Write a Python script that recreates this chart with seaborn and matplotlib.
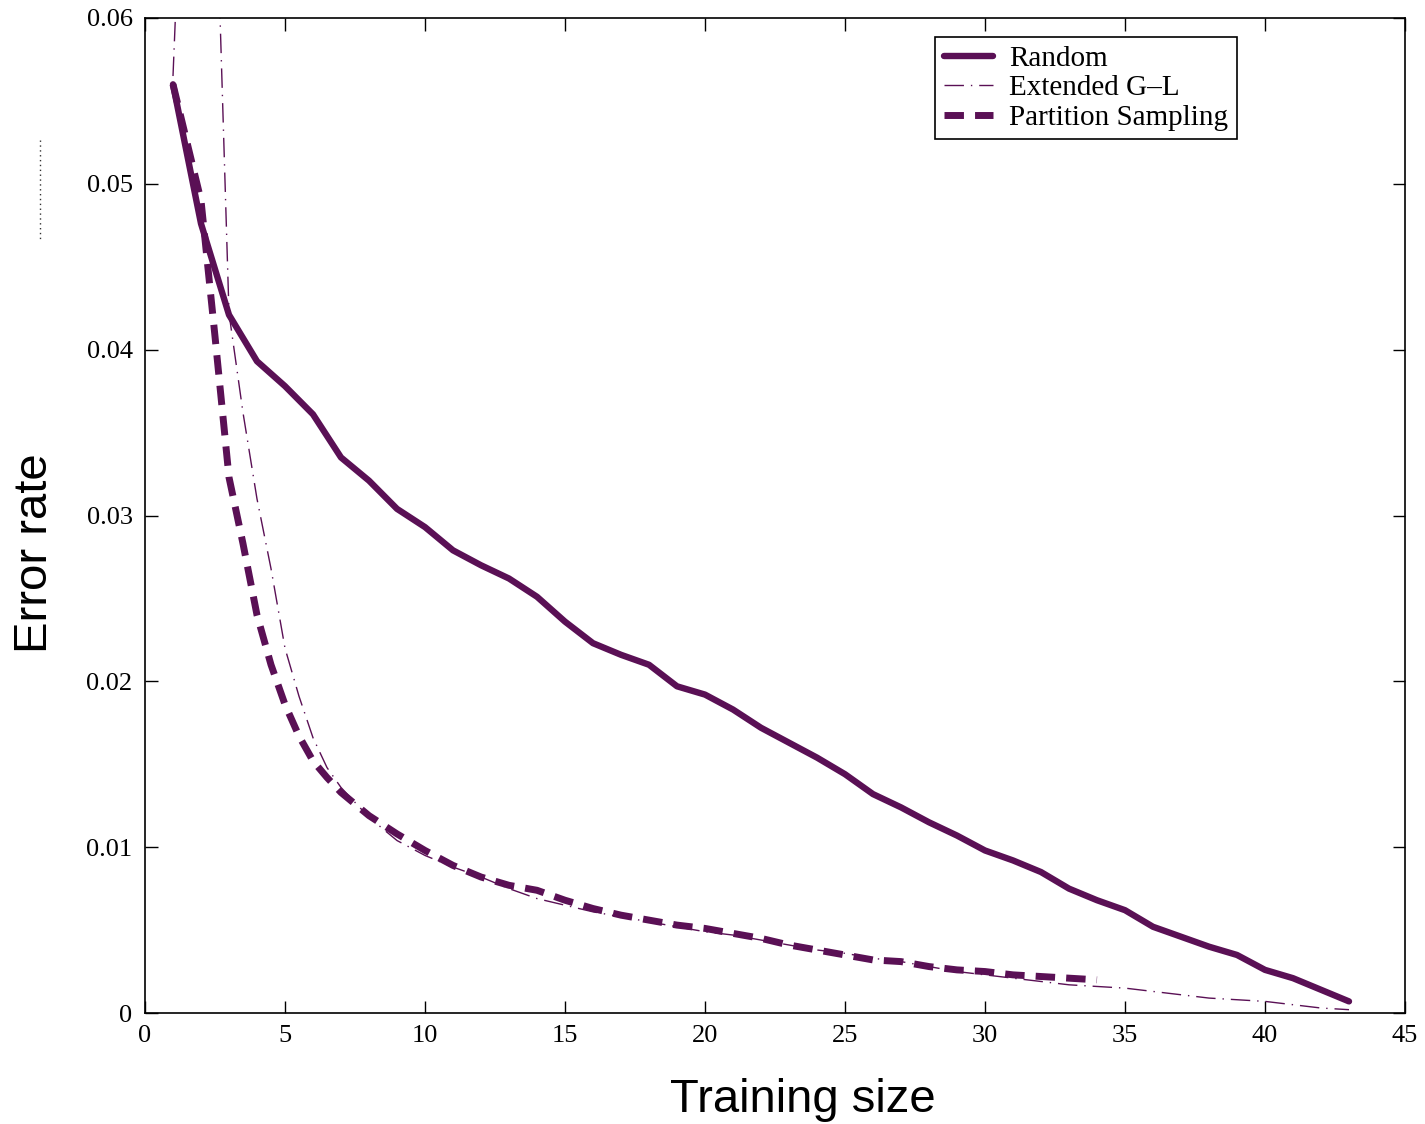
import matplotlib
matplotlib.use("Agg")
import matplotlib.pyplot as plt
from matplotlib.lines import Line2D
from matplotlib.ticker import FuncFormatter
import pandas as pd
import seaborn as sns

# training sizes and error rates
random_x = list(range(1, 44))
random_err = [0.0560, 0.0476, 0.0421, 0.0393, 0.0378, 0.0361, 0.0335, 0.0321, 0.0304, 0.0293,
              0.0279, 0.0270, 0.0262, 0.0251, 0.0236, 0.0223, 0.0216, 0.0210, 0.0197, 0.0192,
              0.0183, 0.0172, 0.0163, 0.0154, 0.0144, 0.0132, 0.0124, 0.0115, 0.0107, 0.0098,
              0.0092, 0.0085, 0.0075, 0.0068, 0.0062, 0.0052, 0.0046, 0.0040, 0.0035, 0.0026,
              0.0021, 0.0014, 0.0007]

gl_x = [1, 2, 3, 3.5, 4, 4.5, 5, 5.5, 6, 6.5, 7] + list(range(8, 44))
gl_err = [0.0565, 0.0980, 0.0422, 0.0362, 0.0310, 0.0268, 0.0220, 0.0191, 0.0166, 0.0148, 0.0136,
          0.0118, 0.0104, 0.0095, 0.0088, 0.0082, 0.0075, 0.0069, 0.0065, 0.0061, 0.0058,
          0.0055, 0.0052, 0.0049, 0.0047, 0.0044, 0.0041, 0.0038, 0.0036, 0.0033, 0.0031,
          0.0028, 0.0025, 0.0023, 0.0021, 0.0019, 0.0017, 0.0016, 0.0015, 0.0013, 0.0011,
          0.0009, 0.0008, 0.0007, 0.0005, 0.0003, 0.0002]

part_x = [1, 2, 2.5, 3, 3.5, 4, 4.5, 5, 5.5, 6, 6.5] + list(range(7, 35))
part_err = [0.0560, 0.0490, 0.0408, 0.0323, 0.0283, 0.0240, 0.0210, 0.0186, 0.0167, 0.0152, 0.0142,
            0.0133, 0.0119, 0.0108, 0.0098, 0.0089, 0.0082, 0.0077, 0.0074, 0.0068, 0.0063,
            0.0059, 0.0056, 0.0053, 0.0051, 0.0048, 0.0045, 0.0041, 0.0038, 0.0035, 0.0032,
            0.0031, 0.0028, 0.0026, 0.0025, 0.0023, 0.0022, 0.0021, 0.0020]

x_ticks = [0, 5, 10, 15, 20, 25, 30, 35, 40, 45]
y_ticks = [0, 0.01, 0.02, 0.03, 0.04, 0.05, 0.06]

color = "#5a1055"

sns.set_style("ticks")
plt.rcParams['font.family'] = ['Liberation Serif', 'DejaVu Serif']
plt.rcParams['text.color'] = 'black'
plt.rcParams['axes.labelcolor'] = 'black'

fig = plt.figure(figsize=(14.25, 11.24), dpi=100)
ax = fig.add_axes([145 / 1425, 1 - 1013 / 1124, 1260 / 1425, 995 / 1124])

df_rand = pd.DataFrame({"size": random_x, "err": random_err})
df_gl = pd.DataFrame({"size": gl_x, "err": gl_err})
df_part = pd.DataFrame({"size": part_x, "err": part_err})

sns.lineplot(data=df_rand, x="size", y="err", ax=ax, color=color, lw=4.6,
             linestyle="-", label="Random", sort=False)
sns.lineplot(data=df_gl, x="size", y="err", ax=ax, color=color, lw=1.0,
             linestyle=(0, (14, 5, 1, 5)), label="Extended G\u2013L", sort=False)
sns.lineplot(data=df_part, x="size", y="err", ax=ax, color=color, lw=5.0,
             linestyle=(0, (2.8, 1.6)), label="Partition Sampling", sort=False)

ax.set_xlim(0, 45)
ax.set_ylim(0, 0.06)
ax.set_xticks(x_ticks)
ax.set_yticks(y_ticks)
ax.yaxis.set_major_formatter(FuncFormatter(lambda v, p: "%g" % v))
ax.xaxis.set_major_formatter(FuncFormatter(lambda v, p: "%g" % v))
ax.tick_params(direction="in", length=9, width=1, top=True, right=True,
               labelsize=19, pad=9, colors="black")
for sp in ax.spines.values():
    sp.set_linewidth(1.2)
    sp.set_color("black")

ax.set_xlabel("Training size", fontsize=34, color="black",
              family=["Liberation Sans", "DejaVu Sans"])
ax.set_ylabel("Error rate", fontsize=34, color="black",
              family=["Liberation Sans", "DejaVu Sans"])
ax.xaxis.set_label_coords(0.522, -0.087)
ax.yaxis.set_label_coords(-0.087, 0.462)
ax.xaxis.label.set_va("center")
ax.yaxis.label.set_va("center")

leg = ax.legend(loc="upper right", bbox_to_anchor=(0.8667, 0.981), borderaxespad=0,
                fontsize=21, frameon=True, fancybox=False, framealpha=1,
                handlelength=1.7, handletextpad=0.55, labelspacing=0.1, borderpad=0.3)
leg.get_frame().set_edgecolor("black")
leg.get_frame().set_linewidth(1.2)
for t in leg.get_texts():
    t.set_color("black")

# small dotted mark left of the axes
fig.add_artist(Line2D([40 / 1425, 40 / 1425], [1 - 140 / 1124, 1 - 242 / 1124],
                      transform=fig.transFigure, color="#333333", lw=1,
                      linestyle=(0, (1, 2.5))))

fig.savefig("out.png", dpi=100)
